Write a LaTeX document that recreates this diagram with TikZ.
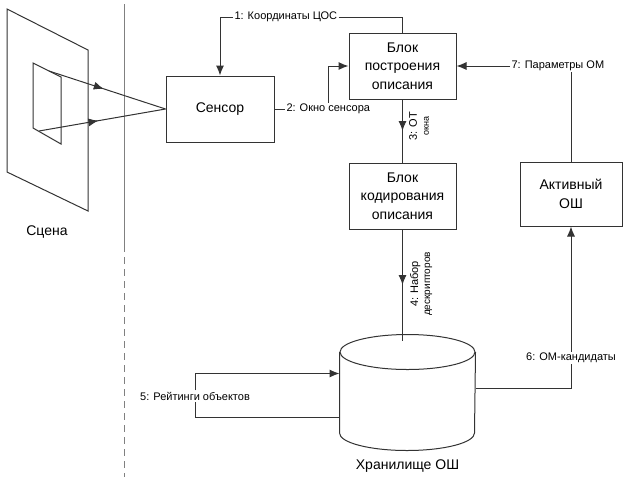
\documentclass[tikz,border=0pt]{standalone}
\usepackage{fontspec}
\setmainfont{Liberation Sans}
\usetikzlibrary{positioning}
\usetikzlibrary{arrows.meta}
\usetikzlibrary{decorations.markings}
\usetikzlibrary{calc}
\tikzset{edge/.style = {-{Latex[length=10pt,width=8pt]}}}
\tikzset{midarrow/.style = {decoration={markings,mark=at position #1 with {\arrow{Latex[length=10pt,width=8pt]}}},postaction={decorate}}}

\begin{document}
\begin{tikzpicture}[x=1pt, y=-1pt, line width=1pt, color=black!80,
  every node/.style={text=black},
  block/.style={rectangle,draw,align=center,font=\fontsize{14}{18.5}\selectfont},
  tag/.style={font=\fontsize{11}{12}\selectfont,inner sep=1pt}]
  \useasboundingbox (0,0) rectangle (623,477);

  % scene with the sensor window
  \draw (7,9) -- (88,50) -- (88,211) -- (7,172) -- cycle;
  \draw (33,63) -- (61,77) -- (61,144) -- (33,128) -- cycle;
  \node[font=\fontsize{14}{16}\selectfont] (scene) at (47,232) {Сцена};
  \coordinate (r1) at (49,71);
  \coordinate (r2) at (39,131);

  % border of the scene
  \draw[gray] (124,4) -- (124,245);
  \draw[gray,dash pattern=on 7pt off 5pt] (124,245) -- (124,477);

  % blocks
  \node[block, minimum width=108, minimum height=66] (1) at (220,109) {Сенсор};
  \node[block, minimum width=107, minimum height=66] (2) at (402.5,66) {Блок\\построения\\описания};
  \node[block, minimum width=107, minimum height=66] (3) [below=63pt of 2] {Блок\\кодирования\\описания};
  \node[block, minimum width=102, minimum height=64] (4) at (571,194) {Активный\\ОШ};

  % storage drum
  \node[inner sep=0, minimum width=135, minimum height=115] (5) at (407.5,392.5) {};
  \draw ([yshift=-17.5pt]5.north west) -- ([yshift=17.5pt]5.south west)
    arc[start angle=180, end angle=360, x radius=67.5pt, y radius=17.5pt]
    -- ([yshift=-17.5pt]5.north east);
  \draw ([yshift=-17.5pt]5.north) ellipse[x radius=67.5pt, y radius=17.5pt];
  \node[font=\fontsize{14}{16}\selectfont, below=5pt of 5] (store) {Хранилище ОШ};

  % labels
  \node[tag, anchor=west] (l1) at (233,17) {1: Координаты ЦОС};
  \node[tag, anchor=west] (l2) at (285,109) {2: Окно сенсора};
  \node[tag, rotate=90, align=center] (l3) at (419,126) {3: ОТ\\{\fontsize{9}{10}\selectfont окна}};
  \node[tag, rotate=90, align=center] (l4) at (421,284) {4: Набор\\{\fontsize{10}{11}\selectfont дескрипторов}};
  \node[tag] (l5) at (195,396) {5: Рейтинги объектов};
  \node[tag] (l6) at (571,358) {6: ОМ-кандидаты};
  \node[tag, anchor=west] (l7) at (510,66) {7: Параметры ОМ};

  % rays
  \draw[midarrow=0.47] (r1) -- (1.west);
  \draw[midarrow=0.47] (r2) -- (1.west);

  % connections
  \draw[edge] (l1.west) -| (1.north);
  \draw (l1.east) -| (2.north);
  \draw (1.east) -- (l2.west);
  \draw[edge] (l2.north) |- (2.west);
  \draw[midarrow=0.5] (2.south) -- (3.north);
  \coordinate (c4) at ($(3.south |- 5.north)+(0,6)$);
  \draw[midarrow=0.5] (3.south) -- (c4);
  \draw ([yshift=-24.5pt]5.west) -| (l5.south);
  \draw[edge] (l5.north) |- ([yshift=19pt]5.west);
  \draw ([yshift=4.5pt]5.east) -| (l6.south);
  \draw[edge] (l6.north) -- (4.south);
  \draw (4.north) -- (4.north |- l7.south);
  \draw[edge] (l7.west) -- (2.east);
\end{tikzpicture}
\end{document}
